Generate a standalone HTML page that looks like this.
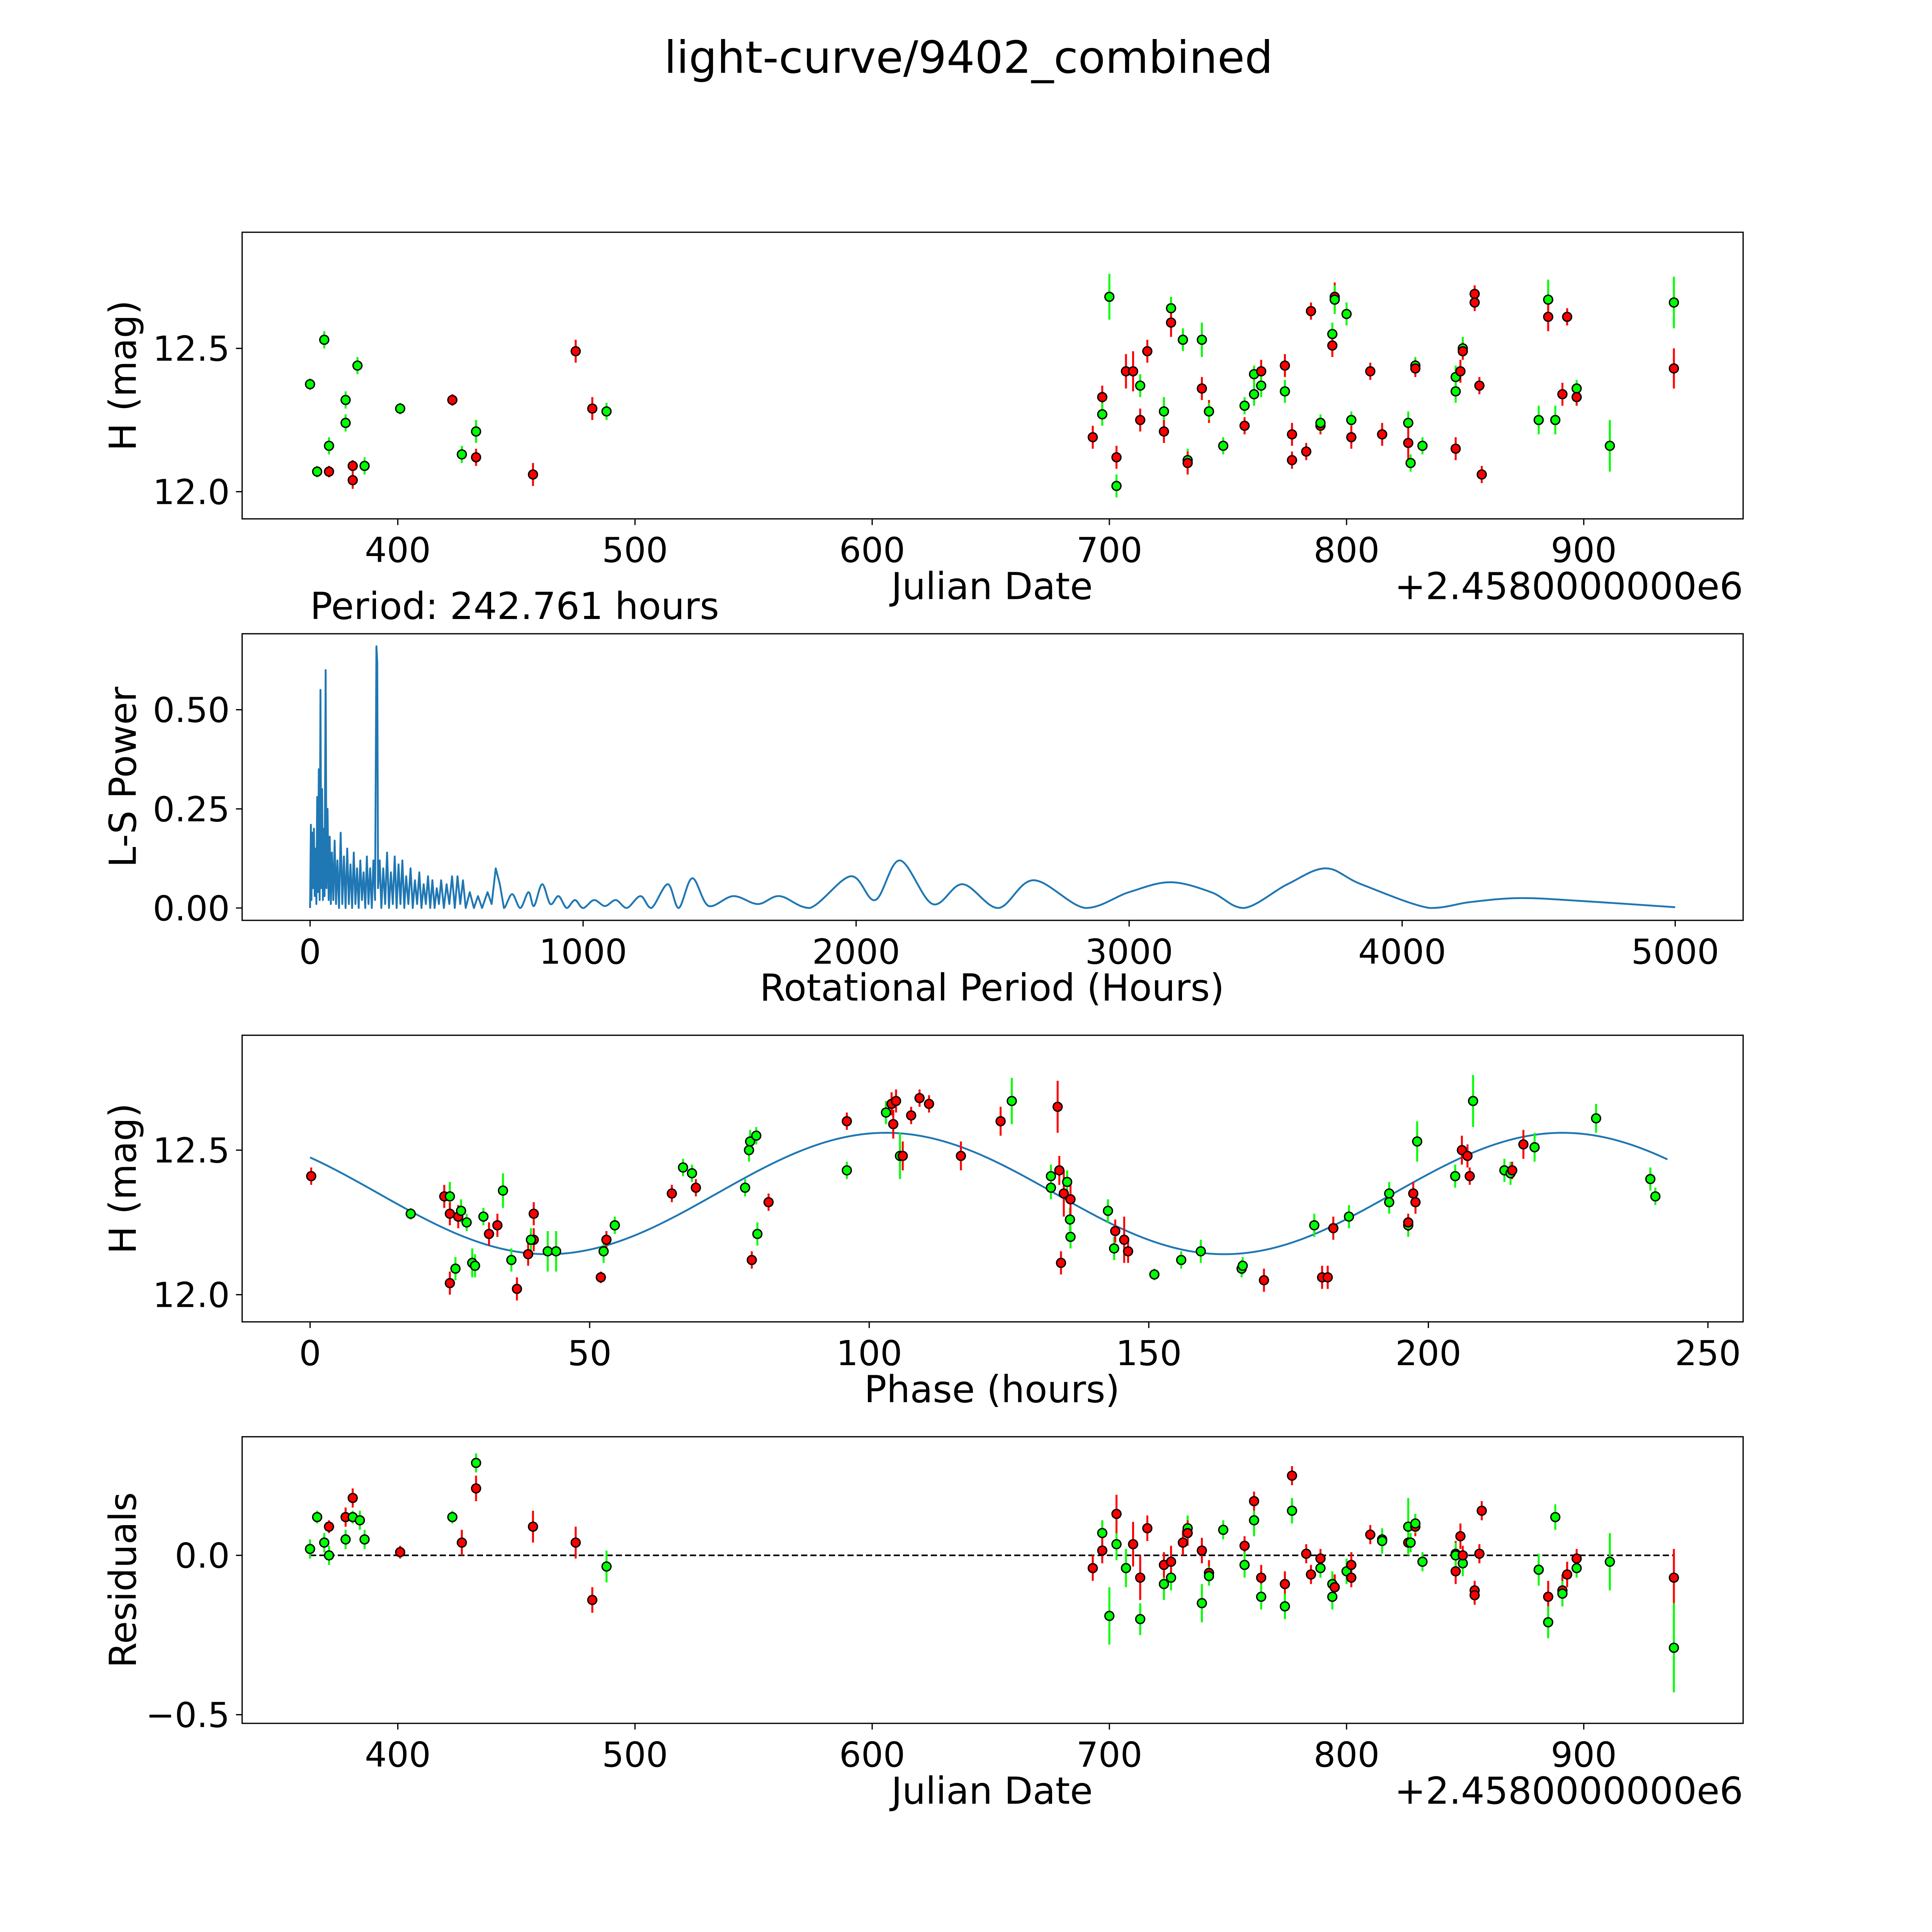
<!DOCTYPE html>
<html><head><meta charset="utf-8"><style>html,body{margin:0;padding:0;background:#fff;overflow:hidden;width:5400px;height:5400px}svg{display:block}</style></head>
<body>
<svg id="fig" xmlns="http://www.w3.org/2000/svg" width="5400" height="5400" viewBox="0 0 1689 1689" font-family="'DejaVu Sans','Liberation Sans',sans-serif">
<rect width="1689" height="1689" fill="#fff"/>
<text x="784" y="59" font-size="36" text-anchor="middle">light-curve/9402_combined</text>
<g id="g"></g>
</svg>
<script>
// ---- Panel 1: light curve (JD offset, mag, color, err)
const jdA = [363,366,369,371,371,378,378,381,381,383,386,401,423,427,433,433,457,475,482,488,
693,697,697,700,703,703,707,710,713,713,716,723,723,726,726,731,731,733,733,739,739,742,742,748,757,757,761,761,764,764,774,774,777,777,783,785,789,789,794,794,795,795,800,802,802,810,815,815,826,826,827,829,829,832,846,846,846,848,849,849,854,854,856,857,885,885,893,881,888,891,897,897,911,938,938];
const magA = [12.375,12.07,12.53,12.07,12.16,12.32,12.24,12.09,12.04,12.44,12.09,12.29,12.32,12.13,12.12,12.21,12.06,12.49,12.29,12.28,
12.19,12.33,12.27,12.68,12.12,12.02,12.42,12.42,12.37,12.25,12.49,12.28,12.21,12.64,12.59,12.53,12.53,12.11,12.10,12.36,12.53,12.28,12.28,12.16,12.23,12.30,12.41,12.34,12.42,12.37,12.44,12.35,12.20,12.11,12.14,12.63,12.23,12.24,12.55,12.51,12.68,12.67,12.62,12.25,12.19,12.42,12.20,12.20,12.24,12.17,12.10,12.44,12.43,12.16,12.40,12.35,12.15,12.42,12.50,12.49,12.69,12.66,12.37,12.06,12.67,12.61,12.61,12.25,12.25,12.34,12.36,12.33,12.16,12.66,12.43];
const colA = "gggrgggrrgggrgrgrrrg"+"rrggrgrrgrrgrgrrggrrgrggrgggrgrgrrrrrggrrgggrrgrgrggrgggrrgrrrrrgrrggrgrggr";
const errA = [0.02,0.02,0.03,0.02,0.03,0.03,0.03,0.02,0.03,0.03,0.03,0.02,0.02,0.03,0.03,0.04,0.04,0.04,0.04,0.03,
0.04,0.04,0.04,0.08,0.04,0.04,0.06,0.07,0.04,0.04,0.04,0.05,0.04,0.04,0.05,0.03,0.04,0.04,0.04,0.04,0.06,0.04,0.03,0.03,0.03,0.03,0.03,0.04,0.04,0.04,0.04,0.04,0.04,0.03,0.03,0.03,0.03,0.03,0.04,0.04,0.05,0.05,0.04,0.03,0.04,0.03,0.03,0.04,0.04,0.08,0.03,0.03,0.03,0.03,0.04,0.04,0.04,0.04,0.04,0.03,0.03,0.03,0.03,0.03,0.07,0.05,0.03,0.05,0.05,0.04,0.03,0.03,0.09,0.09,0.07];

// ---- Panel 2: Lomb-Scargle periodogram
const periodLS = [0,3,5,8,11,14,17,20,23,26,29,32,35,38,41,44,47,50,53,57,60,64,68,72,76,80,85,90,95,100,106,112,118,124,130,136,142,148,154,160,166,172,178,184,190,196,202,208,214,220,226,232,238,243,246,249,255,261,268,275,282,289,296,303,310,317,324,331,338,345,352,360,368,376,384,392,400,408,416,424,432,440,448,456,464,472,480,490,500,510,520,530,540,550,560,570,585,600,615,630,650,665,680,695,710,740,770,800,820,850,880,910,940,970,1000,1040,1080,1120,1160,1210,1250,1310,1350,1400,1460,1550,1640,1720,1830,1980,2070,2160,2280,2390,2520,2650,2840,3000,3150,3300,3420,3580,3720,3850,4100,4250,4430,4650,5000];
const powerLS = [0,0.21,0.02,0.19,0.05,0.2,0.03,0.15,0.01,0.28,0.04,0.35,0.02,0.55,0.05,0.3,0.02,0.2,0.03,0.6,0.05,0.25,0.02,0.18,0.01,0.14,0.02,0.17,0.01,0.12,0,0.19,0.01,0.13,0,0.15,0.01,0.11,0,0.14,0.01,0.1,0,0.12,0.02,0.09,0,0.13,0.01,0.1,0,0.12,0.02,0.66,0.62,0.05,0.12,0,0.1,0.01,0.14,0,0.09,0.01,0.13,0,0.11,0.01,0.12,0,0.08,0.01,0.1,0,0.07,0.01,0.09,0,0.06,0.01,0.08,0,0.07,0,0.05,0.01,0.07,0,0.06,0.01,0.08,0,0.08,0.01,0.07,0,0.04,0,0.03,0,0.04,0.01,0.10,0.06,0,0.035,0,0.04,0.005,0.06,0.01,0.03,0,0.02,0,0.02,0.005,0.02,0,0.03,0,0.06,0,0.075,0.005,0.03,0.01,0.03,0,0.08,0.02,0.12,0.01,0.06,0,0.07,0,0.04,0.065,0.04,0,0.06,0.10,0.06,0,0.015,0.025,0.018,0.002];

// ---- Panel 3: phase-folded
const phB = [0.2,18,24,25,25,25,26,26.5,27,28,29,29.5,31,32,33.5,34.5,36,37,39,40,39.5,40,42.5,44,52,52.5,53,54.5,64.7,66.7,68.3,69,77.8,78.5,78.7,79.8,79,80,82,96,96,103,104,104,104.3,104.8,105.5,106,107.5,109,110.7,116.4,123.5,125.5,132.5,132.5,133.7,134,134.3,134.8,135.4,135.9,136,136,142.7,143.8,144,145.6,146.3,151,155.8,159.3,166.6,166.8,170.6,179.6,181,182,183,185.8,193,193,196.4,196.4,197.3,197.7,198,204.8,206,207,207.4,208,213.6,214.7,215,217,219,230,239.7,240.6];
const magB = [12.41,12.28,12.34,12.34,12.28,12.04,12.09,12.27,12.29,12.25,12.11,12.10,12.27,12.21,12.24,12.36,12.12,12.02,12.14,12.19,12.19,12.28,12.15,12.15,12.06,12.15,12.19,12.24,12.35,12.44,12.42,12.37,12.37,12.50,12.53,12.55,12.12,12.21,12.32,12.60,12.43,12.63,12.66,12.66,12.59,12.67,12.48,12.48,12.62,12.68,12.66,12.48,12.60,12.67,12.41,12.37,12.65,12.43,12.11,12.35,12.39,12.26,12.20,12.33,12.29,12.16,12.22,12.19,12.15,12.07,12.12,12.15,12.09,12.10,12.05,12.24,12.06,12.06,12.23,12.27,12.35,12.32,12.24,12.25,12.35,12.32,12.53,12.41,12.50,12.48,12.41,12.67,12.43,12.42,12.43,12.52,12.51,12.61,12.40,12.34];
const colB = "rgrgrrgrgggggrrggrrrgrggrgrgrggrggggrgrrgggrrrgrrrrrrgggrrrrgggrggrrrgggggrgrrrggggrrrggrrrgggrrggggr";
const errB = [0.03,0.02,0.04,0.05,0.04,0.04,0.04,0.04,0.04,0.03,0.05,0.04,0.03,0.04,0.04,0.06,0.04,0.04,0.04,0.04,0.04,0.04,0.07,0.07,0.02,0.04,0.03,0.03,0.03,0.03,0.03,0.03,0.03,0.04,0.04,0.03,0.03,0.04,0.03,0.03,0.03,0.04,0.04,0.04,0.05,0.04,0.08,0.05,0.03,0.03,0.03,0.05,0.05,0.08,0.04,0.04,0.09,0.05,0.04,0.08,0.04,0.04,0.04,0.06,0.04,0.04,0.04,0.08,0.04,0.02,0.03,0.04,0.03,0.03,0.04,0.04,0.04,0.04,0.04,0.04,0.04,0.04,0.04,0.03,0.04,0.04,0.07,0.04,0.05,0.04,0.03,0.09,0.04,0.04,0.03,0.05,0.05,0.05,0.04,0.03];

// sine model fit parameters
const fitMean = 12.35, fitAmp = 0.21, fitPeriod = 121, fitPeak = 103, foldPeriod = 242.761;

// ---- Panel 4: residuals
const jdD = [363,366,369,371,371,378,378,381,381,384,386,401,423,427,433,433,457,475,482,488,
693,697,697,700,703,703,707,710,713,713,716,723,723,726,726,731,731,733,733,739,739,742,742,748,757,757,761,761,764,764,774,774,777,777,783,785,789,789,794,794,795,795,800,802,802,810,815,815,826,826,827,829,829,832,846,846,846,848,849,849,854,854,856,857,881,885,885,888,891,891,893,897,897,911,938,938];
const resD = [0.02,0.12,0.04,0.09,0.00,0.12,0.05,0.18,0.12,0.11,0.05,0.01,0.12,0.04,0.29,0.21,0.09,0.04,-0.14,-0.035,
-0.04,0.07,0.015,-0.19,0.035,0.13,-0.04,0.035,-0.20,-0.07,0.085,-0.09,-0.03,-0.07,-0.02,0.04,0.04,0.085,0.07,0.015,-0.15,-0.055,-0.065,0.08,0.03,-0.03,0.11,0.17,-0.07,-0.13,-0.09,-0.16,0.14,0.25,0.005,-0.06,-0.01,-0.04,-0.13,-0.09,-0.10,-0.10,-0.05,-0.07,-0.03,0.065,0.05,0.045,0.04,0.09,0.04,0.09,0.10,-0.02,-0.05,0.005,0,0.06,-0.025,0,-0.11,-0.125,0.005,0.14,-0.045,-0.13,-0.21,0.12,-0.11,-0.12,-0.06,-0.01,-0.04,-0.02,-0.07,-0.29];
const colD = "gggrgrgrgggrgrgrrrrg"+"rgrggrgrgrrgrgrgrgrrgrgg"+"rggrrgrggrrrrgggrrgrrrggrggrggrrgrgrrrrrgrggrgrrggrg";
const errD = [0.03,0.02,0.03,0.02,0.03,0.03,0.03,0.03,0.02,0.03,0.03,0.02,0.02,0.04,0.03,0.04,0.05,0.05,0.04,0.05,
0.04,0.04,0.04,0.09,0.05,0.06,0.06,0.07,0.05,0.07,0.04,0.05,0.04,0.04,0.05,0.03,0.04,0.04,0.04,0.04,0.06,0.04,0.03,0.03,0.03,0.04,0.05,0.03,0.04,0.04,0.04,0.04,0.04,0.03,0.03,0.03,0.03,0.03,0.04,0.04,0.04,0.04,0.04,0.03,0.04,0.03,0.03,0.04,0.04,0.09,0.03,0.03,0.03,0.03,0.04,0.04,0.04,0.04,0.04,0.03,0.03,0.03,0.03,0.03,0.05,0.05,0.05,0.04,0.05,0.04,0.04,0.03,0.03,0.09,0.09,0.14];

const xTicksJD = [400,500,600,700,800,900];
const xTicksLS = [0,1000,2000,3000,4000,5000];
const xTicksPh = [0,50,100,150,200,250];
const yTicksMag = [12.0,12.5];
const yTicksLS = [0,0.25,0.5];
const yTicksRes = [-0.5,0.0];

const NS = "http://www.w3.org/2000/svg";
const G = document.getElementById('g');
function mk(tag, attrs, parent){const e=document.createElementNS(NS,tag);for(const k in attrs)e.setAttribute(k,attrs[k]);(parent||G).appendChild(e);return e;}
const COL={r:'#ff0000',g:'#00ff00'};
const L=196,R=1411;
const TF=28, AF=30;
const sxJD=d=>322+(d-400)*1.92;
const panels=[
 {top:188,sx:sxJD,sy:m=>282-(m-12.5)*232,xt:xTicksJD,yt:yTicksMag,yf:v=>v.toFixed(1),xl:'Julian Date',yl:'H (mag)',off:true,name:'light-curve'},
 {top:513,sx:p=>251+p*0.221,sy:v=>735-v*321,xt:xTicksLS,yt:yTicksLS,yf:v=>v.toFixed(2),xl:'Rotational Period (Hours)',yl:'L-S Power',name:'periodogram'},
 {top:838,sx:p=>251+p*4.526,sy:m=>931-(m-12.5)*234,xt:xTicksPh,yt:yTicksMag,yf:v=>v.toFixed(1),xl:'Phase (hours)',yl:'H (mag)',name:'phase-curve'},
 {top:1163,sx:sxJD,sy:r=>1259-r*258,xt:xTicksJD,yt:yTicksRes,yf:v=>(v<0?'\u2212':'')+Math.abs(v).toFixed(1),xl:'Julian Date',yl:'Residuals',off:true,name:'residuals'}
];
panels.forEach(P=>{
 const b=P.top+232;
 const g=mk('g',{});
 
 
 P.g=g;
 P.xt.forEach(v=>{const x=P.sx(v);
  mk('line',{x1:x,x2:x,y1:b,y2:b+5,stroke:'#000','stroke-width':1},g);
  const t=mk('text',{x:x,y:b+35,'font-size':TF,'text-anchor':'middle'},g);t.textContent=String(v);
  
  });
 P.yt.forEach(v=>{const y=P.sy(v);
  mk('line',{x1:L-5,x2:L,y1:y,y2:y,stroke:'#000','stroke-width':1},g);
  const t=mk('text',{x:L-10,y:y+10,'font-size':TF,'text-anchor':'end'},g);t.textContent=P.yf(v);
  
  });
 const xl=mk('text',{x:803,y:b+65,'font-size':AF,'text-anchor':'middle'},g);xl.textContent=P.xl;
 
 
 const yl=mk('text',{x:0,y:0,'font-size':AF,'text-anchor':'middle',transform:`translate(110,${P.top+116}) rotate(-90)`},g);yl.textContent=P.yl;
 
 
 if(P.off){const o=mk('text',{x:R,y:b+65,'font-size':AF,'text-anchor':'end'},g);o.textContent='+2.4580000000e6';
  
  }
});
const pt=mk('text',{x:251,y:501,'font-size':AF},panels[1].g);pt.textContent='Period: 242.761 hours';



function errPoints(P,xs,ys,cs,es,nm){
 const g=mk('g',{},P.g);
 
 
 xs.forEach((d,i)=>{const c=COL[cs[i]]||COL.g;const x=P.sx(d);
  mk('line',{x1:x,x2:x,y1:P.sy(ys[i]-es[i]),y2:P.sy(ys[i]+es[i]),stroke:c,'stroke-width':1.6},g);});
 xs.forEach((d,i)=>{const c=COL[cs[i]]||COL.g;
  const e=mk('circle',{cx:P.sx(d),cy:P.sy(ys[i]),r:3.6,fill:c,stroke:'#000','stroke-width':1.1},g);
  
  });
}
errPoints(panels[0],jdA,magA,colA,errA,'light-curve-points');

// periodogram line: straight segments in the dense region, smooth curve for long periods
{const P=panels[1];
 const pts=periodLS.map((p,i)=>[P.sx(p),P.sy(powerLS[i])]);
 let d='M'+pts[0][0].toFixed(2)+','+pts[0][1].toFixed(2);
 for(let i=1;i<pts.length;i++){
  if(periodLS[i]<=710){d+='L'+pts[i][0].toFixed(2)+','+pts[i][1].toFixed(2);continue;}
  const p0=pts[Math.max(0,i-2)],p1=pts[i-1],p2=pts[i],p3=pts[Math.min(pts.length-1,i+1)];
  const c1=[p1[0]+(p2[0]-p0[0])/6,p1[1]+(p2[1]-p0[1])/6];
  const c2=[p2[0]-(p3[0]-p1[0])/6,p2[1]-(p3[1]-p1[1])/6];
  c1[1]=Math.min(c1[1],P.sy(0));c2[1]=Math.min(c2[1],P.sy(0));
  d+='C'+c1[0].toFixed(2)+','+c1[1].toFixed(2)+' '+c2[0].toFixed(2)+','+c2[1].toFixed(2)+' '+p2[0].toFixed(2)+','+p2[1].toFixed(2);
 }
 const e=mk('path',{d:d,fill:'none',stroke:'#1f77b4','stroke-width':1.5,'stroke-linejoin':'round'},P.g);
 
 }

// fit curve
{const P=panels[2];let d='';const N=300;
 for(let i=0;i<=N;i++){const p=foldPeriod*i/N;const m=fitMean+fitAmp*Math.cos(2*Math.PI*(p-fitPeak)/fitPeriod);
  d+=(i?'L':'M')+P.sx(p).toFixed(2)+','+P.sy(m).toFixed(2);}
 const e=mk('path',{d:d,fill:'none',stroke:'#1f77b4','stroke-width':1.5},P.g);
 
 }
errPoints(panels[2],phB,magB,colB,errB,'phase-points');

// residual zero line
{const P=panels[3];
 const e=mk('line',{x1:P.sx(363),x2:P.sx(938),y1:P.sy(0),y2:P.sy(0),stroke:'#000','stroke-width':1.3,'stroke-dasharray':'5,2.5'},P.g);
 
 }
errPoints(panels[3],jdD,resD,colD,errD,'residual-points');

panels.forEach(P=>{const e=mk('rect',{x:L,y:P.top,width:R-L,height:232,fill:'none',stroke:'#000','stroke-width':1},P.g);
 
 });
</script>
</body></html>
